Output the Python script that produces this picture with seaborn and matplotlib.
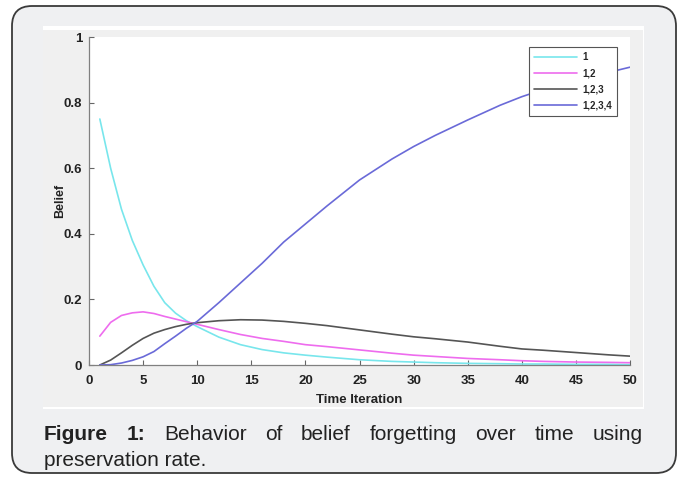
import seaborn as sns
import matplotlib.pyplot as plt
import pandas as pd
from matplotlib.patches import FancyBboxPatch, Rectangle

# values
time_steps = [1, 2, 3, 4, 5, 6, 7, 8, 9, 10, 12, 14, 16, 18, 20, 22, 25,
              28, 30, 32, 35, 38, 40, 42, 45, 48, 50]
belief_1 = [0.75, 0.60, 0.475, 0.38, 0.305, 0.24, 0.19, 0.158, 0.135, 0.117,
            0.085, 0.062, 0.047, 0.037, 0.030, 0.024, 0.016, 0.011, 0.009,
            0.007, 0.005, 0.004, 0.003, 0.003, 0.002, 0.002, 0.001]
belief_12 = [0.088, 0.130, 0.151, 0.159, 0.162, 0.157, 0.148, 0.140, 0.132,
             0.124, 0.108, 0.093, 0.081, 0.072, 0.062, 0.056, 0.046, 0.036,
             0.030, 0.026, 0.020, 0.016, 0.013, 0.011, 0.009, 0.008, 0.007]
belief_123 = [0.0, 0.015, 0.037, 0.060, 0.081, 0.097, 0.108, 0.117, 0.124,
              0.129, 0.135, 0.138, 0.137, 0.133, 0.127, 0.120, 0.107, 0.094,
              0.086, 0.080, 0.070, 0.057, 0.049, 0.045, 0.038, 0.031, 0.027]
belief_1234 = [0.0, 0.001, 0.006, 0.014, 0.025, 0.041, 0.065, 0.088, 0.112,
               0.133, 0.190, 0.250, 0.310, 0.375, 0.430, 0.485, 0.564, 0.628,
               0.666, 0.700, 0.747, 0.792, 0.818, 0.840, 0.868, 0.892, 0.908]
series_labels = ["1", "1,2", "1,2,3", "1,2,3,4"]
series_colors = ["#78e6ec", "#ee6cee", "#555555", "#6a6ad8"]

df = pd.DataFrame({
    "Time": time_steps * 4,
    "Belief": belief_1 + belief_12 + belief_123 + belief_1234,
    "Set": sum([[lab] * len(time_steps) for lab in series_labels], []),
})

sns.set_style("ticks")
plt.rcParams['font.family'] = ['Liberation Sans', 'DejaVu Sans']

W, H = 683, 478
fig = plt.figure(figsize=(W / 100, H / 100), dpi=100)
fig.patch.set_facecolor("white")

# background layer in pixel coordinates
bg = fig.add_axes([0, 0, 1, 1])
bg.set_xlim(0, W)
bg.set_ylim(H, 0)
bg.axis("off")
bg.add_patch(FancyBboxPatch((12, 6), 664, 467,
                            boxstyle="round,pad=0,rounding_size=20",
                            facecolor="#eff0f2", edgecolor="#3a3a3a", lw=1.3))
bg.add_patch(Rectangle((43, 26), 601, 383, facecolor="white", edgecolor="none"))
bg.add_patch(Rectangle((43, 30), 600, 377, facecolor="#f0f0f0", edgecolor="none"))

# main chart
ax = fig.add_axes([89 / W, 1 - 365 / H, 541 / W, 328 / H])
ax.set_facecolor("white")
sns.lineplot(data=df, x="Time", y="Belief", hue="Set", hue_order=series_labels,
             palette=series_colors, lw=1.2, legend=False, ax=ax)
ax.set_xlim(0, 50)
ax.set_ylim(0, 1)
ax.set_xticks(range(0, 51, 5))
ax.set_yticks([0, 0.2, 0.4, 0.6, 0.8, 1])
ax.set_yticklabels(["0", "0.2", "0.4", "0.6", "0.8", "1"])
ax.tick_params(direction="in", length=3.5, width=0.8, color="#666666",
               labelsize=9.5, labelcolor="#222222")
ax.tick_params(axis="x", pad=7.5)
ax.tick_params(axis="y", pad=5)
for lab in ax.get_xticklabels() + ax.get_yticklabels():
    lab.set_fontweight("bold")
sns.despine(ax=ax)
for side in ["left", "bottom"]:
    ax.spines[side].set_color("#808080")
    ax.spines[side].set_linewidth(0.9)
ax.set_xlabel("Time Iteration", fontsize=9.5, fontweight="bold", color="#222222", labelpad=5)
ax.set_ylabel("Belief", fontsize=9, fontweight="bold", color="#222222", labelpad=-2)

leg = ax.legend(ax.lines, series_labels, loc="upper right",
                bbox_to_anchor=(0.976, 0.97), borderaxespad=0,
                prop={"size": 7, "weight": "bold"}, handlelength=4.4,
                handletextpad=0.5, labelspacing=0.62, fancybox=False,
                frameon=True, borderpad=0.55)
leg.get_frame().set_edgecolor("#555555")
leg.get_frame().set_linewidth(0.8)
leg.get_frame().set_facecolor("white")
leg.get_frame().set_alpha(1)

# caption, first line justified between x=44 and x=643
fs = 15
words = [("Figure", "bold"), ("1:", "bold"), ("Behavior", "normal"), ("of", "normal"),
         ("belief", "normal"), ("forgetting", "normal"), ("over", "normal"),
         ("time", "normal"), ("using", "normal")]
txts = [bg.text(0, 440, w, fontsize=fs, fontweight=wt, color="#222222",
                va="baseline", ha="left") for w, wt in words]
renderer = fig.canvas.get_renderer()
widths = [t.get_window_extent(renderer).width for t in txts]
gap = (643 - 44 - sum(widths)) / (len(words) - 1)
x = 44
for t, w in zip(txts, widths):
    t.set_x(x)
    x += w + gap
bg.text(44, 466, "preservation rate.", fontsize=fs, color="#222222",
        va="baseline", ha="left")

fig.savefig("out.png", dpi=100)
